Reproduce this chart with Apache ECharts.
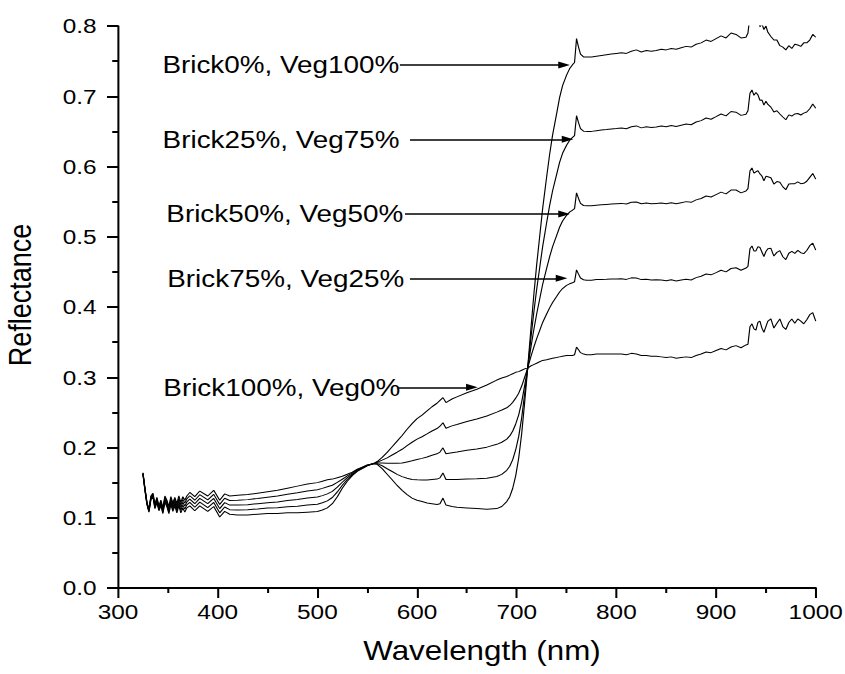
<!DOCTYPE html>
<html><head><meta charset="utf-8">
<script src="https://cdn.jsdelivr.net/npm/echarts@6/dist/echarts.min.js"></script>
<style>html,body{margin:0;padding:0;background:#fff;overflow:hidden}#chart{width:728px;height:674px;transform:scaleX(1.1607);transform-origin:0 0}</style>
</head><body><div id="chart"></div>
<script>
const wavelength = [325,327,329,331,333,335,337,339,341,343,345,347,349,351,353,355,357,359,361,363,365,367,369,372,377,382,390,396,402,407,412,420,430,440,450,460,470,480,490,500,505,510,515,520,525,530,535,540,545,550,556,560,565,570,575,580,585,590,595,600,605,610,615,620,623,626,629,635,640,650,660,670,680,685,690,693,696,699,702,705,708,711,714,717,720,723,726,730,733,736,740,743,746,750,753,756,758,760,762,764,767,770,775,780,785,790,795,800,805,810,815,820,825,830,835,840,845,850,855,860,865,870,875,880,885,890,895,900,905,910,915,920,925,930,932,934,936,938,940,942,944,946,948,950,952,955,958,961,964,967,970,973,976,979,982,985,988,991,994,997,1000];

const brick0 = [.162,.139,.119,.108,.126,.130,.113,.122,.110,.117,.106,.122,.116,.106,.119,.109,.117,.107,.117,.107,.114,.108,.114,
.117,.110,.117,.109,.116,.101,.109,.105,.104,
.104,.105,.106,.106,.107,.107,.108,.109,
.111,.114,.120,.130,.142,.152,.160,.166,.170,.174,
.177,
.176,.170,.162,.154,.146,.139,.133,.128,.125,.123,.121,.120,.119,
.120,.128,.118,
.116,.115,
.114,.113,.112,.113,
.116,.123,
.130,.142,.160,.185,.220,.265,.313,
.365,.415,.460,.500,.540,
.585,.617,.645,
.675,.698,.715,
.730,.739,.745,.748,
.782,.770,.760,.756,
.756,
.756,.757,.758,.759,.760,.761,.762,.761,.764,.766,.763,.765,.764,.765,.767,.766,.768,.767,.769,.771,.770,.774,.776,.780,.778,.782,.786,.783,.790,.788,.783,.784,
.790,.815,.820,.812,.818,.810,.799,.803,.795,.800,.791,
.785,.780,.780,.772,.770,.766,.772,.768,.774,.773,.771,.776,.776,.780,.788,.784];

const brick25 = [.1625,.1398,.1198,.109,.1273,.1313,.1145,.1238,.1118,.119,.108,.1243,.1183,.1085,.1218,.112,.120,.1103,.1205,.1108,.118,.1123,.1183,
.1218,.115,.1223,.1145,.1218,.107,.1153,.1115,.111,
.1113,.1125,.1138,.1143,.1158,.1165,.118,.1193,
.1213,.124,.1288,.1368,.1463,.1545,.1613,.1668,.1705,.1743,
.177,
.177,.174,.1698,.1658,.1618,.1585,.1563,.1545,.154,.1538,.1538,.1545,.155,
.1568,.1638,.1545,
.1543,.1543,
.155,.1555,.1563,.1588,
.1618,.1675,
.1733,.1828,.1968,.2158,.2425,.2768,.313,
.3528,.3908,.425,.4555,.486,
.520,.5443,.5655,
.5883,.6058,.6188,
.6303,.637,.6415,.644,
.6723,.6623,.6538,.6503,
.650,
.650,.651,.6518,.6525,.6533,.654,.6548,.6538,.6565,.6578,.655,.6565,.6555,.6563,.6575,.6565,.6583,.657,.6588,.6605,.6595,.6633,.6653,.669,.6673,.671,.6748,.672,.6783,.6773,.6728,.6745,
.6793,.7043,.709,.7013,.7053,.702,.6943,.6948,.6873,.693,.6883,
.6845,.6775,.6793,.6748,.6705,.6665,.6735,.6718,.6748,.6755,.6733,.676,.6775,.6823,.689,.683];

const brick50 = [.163,.1405,.1205,.110,.1285,.1325,.116,.1255,.1135,.121,.110,.1265,.1205,.111,.1245,.115,.123,.1135,.124,.1145,.122,.1165,.1225,
.1265,.120,.1275,.120,.1275,.113,.1215,.118,.118,
.1185,.120,.1215,.1225,.1245,.126,.128,.1295,
.1315,.134,.1375,.1435,.1505,.157,.1625,.1675,.171,.1745,
.177,
.178,.178,.1775,.1775,.1775,.178,.1795,.181,.183,.1845,.1865,.189,.191,
.1935,.1995,.191,
.1925,.1935,
.196,.198,.2005,.2045,
.2075,.212,
.2165,.2235,.2335,.2465,.265,.2885,.313,
.3405,.3665,.390,.411,.432,
.455,.4715,.486,
.5015,.5135,.5225,
.5305,.535,.538,.540,
.5625,.5545,.5475,.5445,
.544,
.544,.545,.5455,.546,.5465,.547,.5475,.5465,.549,.5495,.547,.548,.547,.5475,.548,.547,.5485,.547,.5485,.550,.549,.5525,.5545,.558,.5565,.560,.5635,.561,.5665,.5665,.5625,.565,
.5685,.5935,.598,.5905,.5925,.594,.5895,.5865,.5795,.586,.5855,
.584,.575,.5785,.5775,.571,.567,.575,.5755,.5755,.578,.5755,.576,.579,.5845,.590,.582];

const brick75 = [.1635,.1413,.1213,.111,.1298,.1338,.1175,.1273,.1153,.123,.112,.1288,.1228,.1135,.1273,.118,.126,.1168,.1275,.1183,.126,.1208,.1268,
.1313,.125,.1328,.1255,.1333,.119,.1278,.1245,.125,
.1258,.1275,.1293,.1308,.1333,.1355,.138,.1398,
.1418,.144,.1463,.1503,.1548,.1595,.1638,.1683,.1715,.1748,
.177,
.179,.182,.1853,.1893,.1933,.1975,.2028,.2075,.212,.2153,.2193,.2235,.227,
.2303,.2353,.2275,
.2308,.2328,
.237,.2405,.2448,.2503,
.2533,.2565,
.2598,.2643,.2703,.2773,.2875,.3003,.313,
.3283,.3423,.355,.3665,.378,
.390,.3988,.4065,
.4148,.4213,.4263,
.4308,.433,.4345,.436,
.4528,.4468,.4413,.4388,
.438,
.438,.439,.4393,.4395,.4398,.440,.4403,.4393,.4415,.4413,.439,.4395,.4385,.4388,.4385,.4375,.4388,.437,.4383,.4395,.4385,.4418,.4438,.447,.4458,.449,.4523,.450,.4548,.4558,.4523,.4555,
.4578,.4828,.487,.4798,.4798,.486,.4848,.4783,.4718,.479,.4828,
.4835,.4725,.4778,.4803,.4715,.4675,.4765,.4793,.4763,.4805,.4773,.476,.4805,.4873,.491,.481];

const brick100 = [.164,.142,.122,.112,.131,.135,.119,.129,.117,.125,.114,.131,.125,.116,.130,.121,.129,.120,.131,.122,.130,.125,.131,
.136,.130,.138,.131,.139,.125,.134,.131,.132,
.133,.135,.137,.139,.142,.145,.148,.150,
.152,.154,.155,.157,.159,.162,.165,.169,.172,.175,
.177,
.180,.186,.193,.201,.209,.217,.226,.234,.241,.246,.252,.258,.263,
.267,.271,.264,
.269,.272,
.278,.283,.289,.296,
.299,.301,
.303,.305,.307,.308,.310,.312,.313,
.316,.318,.320,.322,.324,
.325,.326,.327,
.328,.329,.330,
.331,.331,.331,.332,
.343,.339,.335,.333,
.332,
.332,.333,.333,.333,.333,.333,.333,.332,.334,.333,.331,.331,.330,.330,.329,.328,.329,.327,.328,.329,.328,.331,.333,.336,.335,.338,.341,.339,.343,.345,.342,.346,
.347,.372,.376,.369,.367,.378,.380,.370,.364,.372,.380,
.383,.370,.377,.383,.372,.368,.378,.383,.377,.383,.380,.376,.382,.389,.392,.380];

const seriesNames = ['Brick0%, Veg100%','Brick25%, Veg75%','Brick50%, Veg50%','Brick75%, Veg25%','Brick100%, Veg0%'];
const seriesValues = [brick0, brick25, brick50, brick75, brick100];
// annotation arrows (data coordinates): y level, start wavelength, end wavelength
const arrowY = [0.7445, 0.6387, 0.5324, 0.4408, 0.2857];
const arrowFrom = [582.8, 592.9, 587.9, 592.9, 580.8];
const arrowTo = [747.5, 751.0, 747.5, 745.0, 655.0];
const xTicks = {min: 300, max: 1000, step: 100};
const yTicks = {min: 0, max: 0.8, step: 0.1};

const FONT = '"Liberation Sans", Arial, Helvetica, sans-serif';
const labelGap = [0.5, 9, 1.5, 5, -2];

const chart = echarts.init(document.getElementById('chart'), null, {renderer: 'svg'});
const series = seriesValues.map((vals, i) => ({
  name: seriesNames[i],
  type: 'line',
  data: wavelength.map((w, j) => [w, vals[j]]),
  showSymbol: false,
  symbol: 'none',
  clip: true,
  animation: false,
  lineStyle: {color: '#000', width: 1},
  markLine: {
    silent: true,
    animation: false,
    symbol: ['none', 'triangle'],
    symbolSize: [7, 10],
    lineStyle: {color: '#000', width: 1.5, type: 'solid'},
    label: {
      show: true, position: 'start', formatter: seriesNames[i],
      color: '#000', fontSize: 24, fontFamily: FONT, distance: labelGap[i]
    },
    data: [[{coord: [arrowFrom[i], arrowY[i]]}, {coord: [arrowTo[i], arrowY[i]]}]]
  }
}));

chart.setOption({
  animation: false,
  backgroundColor: '#fff',
  grid: {left: 101.7, right: 25.2, top: 26, bottom: 86, containLabel: false, outerBoundsMode: 'none'},
  xAxis: {
    type: 'value', min: xTicks.min, max: xTicks.max, interval: xTicks.step,
    name: 'Wavelength (nm)', nameLocation: 'middle', nameGap: 49,
    nameTextStyle: {fontSize: 27, color: '#000', fontFamily: FONT, padding: [0, 0, 0, 26]},
    axisLine: {show: true, lineStyle: {color: '#000', width: 2}},
    axisTick: {show: true, length: 10, lineStyle: {color: '#000', width: 1.75}},
    minorTick: {show: true, splitNumber: 2, length: 5, lineStyle: {color: '#000', width: 1.75}},
    axisLabel: {fontSize: 21, color: '#000', fontFamily: FONT, margin: 13, formatter: v => String(v)},
    splitLine: {show: false}, minorSplitLine: {show: false}
  },
  yAxis: {
    type: 'value', min: yTicks.min, max: yTicks.max, interval: yTicks.step,
    name: 'Reflectance', nameLocation: 'middle', nameGap: 71, nameRotate: 90,
    nameTextStyle: {fontSize: 27, color: '#000', fontFamily: FONT, padding: [0, 0, 0, 24]},
    axisLine: {show: true, lineStyle: {color: '#000', width: 1.75}},
    axisTick: {show: true, length: 9.5, lineStyle: {color: '#000', width: 2}},
    minorTick: {show: true, splitNumber: 2, length: 5, lineStyle: {color: '#000', width: 2}},
    axisLabel: {fontSize: 21, color: '#000', fontFamily: FONT, margin: 18.5, formatter: v => v.toFixed(1)},
    splitLine: {show: false}, minorSplitLine: {show: false}
  },
  series: series
});
</script></body></html>
